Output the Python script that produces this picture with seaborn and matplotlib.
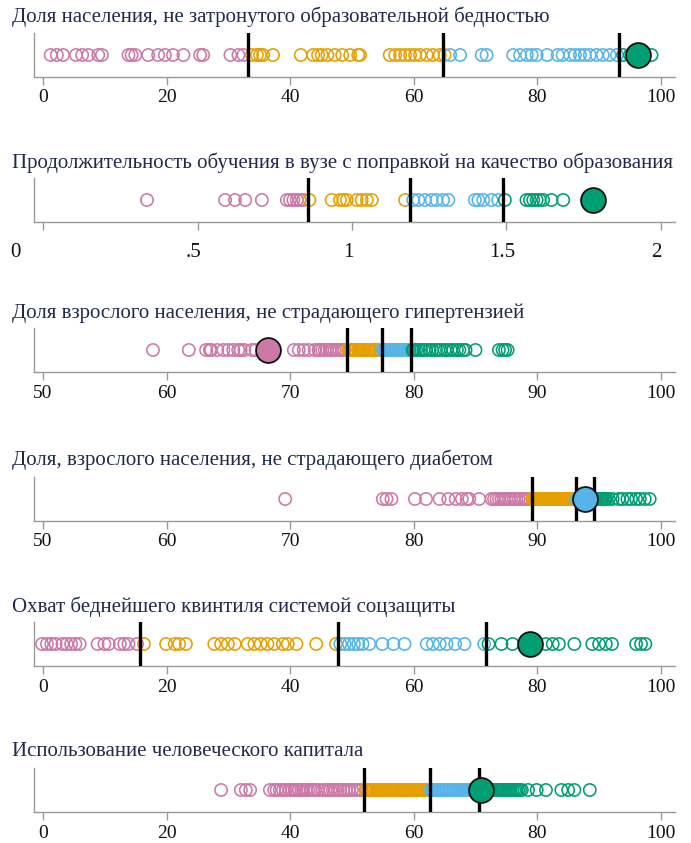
import numpy as np
import pandas as pd
import matplotlib
matplotlib.use("Agg")
import matplotlib.pyplot as plt
import matplotlib.transforms as mtransforms
import seaborn as sns

# ---------------- data ----------------
titles = [
    "Доля населения, не затронутого образовательной бедностью",
    "Продолжительность обучения в вузе с поправкой на качество образования",
    "Доля взрослого населения, не страдающего гипертензией",
    "Доля, взрослого населения, не страдающего диабетом",
    "Охват беднейшего квинтиля системой соцзащиты",
    "Использование человеческого капитала",
]

groups = ["Q1", "Q2", "Q3", "Q4"]
palette = {"Q1": "#CC79A7", "Q2": "#E69F00", "Q3": "#56B4E9", "Q4": "#009E73"}

# panel 1
p1_q1 = [1.2, 2.2, 3.2, 5.3, 6.3, 7.3, 8.9, 9.5, 13.8, 14.3, 14.9, 17.0, 18.6, 19.7, 21.0,
         22.7, 25.4, 25.9, 30.3, 31.6, 32.4]
p1_q2 = [33.8, 34.6, 35.1, 35.6, 37.2, 41.7, 43.7, 44.5, 45.1, 46.0, 47.2, 48.4, 49.7, 51.0,
         51.3, 56.1, 57.0, 57.8, 58.6, 59.4, 60.2, 61.0, 62.1, 63.1, 64.2, 65.0]
p1_q3 = [65.9, 67.5, 71.0, 71.8, 76.1, 77.2, 78.3, 79.1, 79.9, 81.6, 83.3, 84.1, 85.3, 86.1,
         86.9, 87.7, 88.5, 89.6, 90.6, 91.7, 92.9]
p1_q4 = [93.9, 95.0, 98.5]
p1_cut = [33.2, 64.8, 93.3]
p1_hl = (96.3, "Q4")

# panel 2
p2_q1 = [0.336, 0.589, 0.621, 0.654, 0.708, 0.789, 0.799, 0.810, 0.821, 0.831, 0.842]
p2_q2 = [0.862, 0.934, 0.961, 0.972, 0.983, 1.015, 1.031, 1.048, 1.064, 1.172]
p2_q3 = [1.198, 1.215, 1.236, 1.258, 1.274, 1.295, 1.312, 1.398, 1.409, 1.425, 1.452, 1.473]
p2_q4 = [1.495, 1.565, 1.576, 1.587, 1.598, 1.608, 1.619, 1.646, 1.684]
p2_cut = [0.859, 1.188, 1.49]
p2_hl = (1.781, "Q4")

# panel 3
p3_q1 = [58.9, 61.8, 63.2, 63.5, 63.6, 64.1, 64.6, 65.0, 65.4, 65.8, 66.0, 66.3, 66.9, 67.2,
         70.3, 70.7, 71.1, 71.5, 72.0, 72.3, 72.4, 72.6, 72.8, 73.0, 73.2, 73.4, 73.6, 73.8,
         74.0, 74.2, 74.4]
p3_q2 = [74.7, 74.8, 74.9, 75.0, 75.1, 75.2, 75.3, 75.5, 75.6, 75.7, 75.9, 76.0, 76.1, 76.3,
         76.4, 76.5, 76.7, 76.8, 76.9, 77.0, 77.2, 77.3]
p3_q3 = [77.5, 77.6, 77.7, 77.8, 77.9, 78.0, 78.1, 78.2, 78.3, 78.4, 78.5, 78.6, 78.7, 78.8,
         78.9, 79.0, 79.1, 79.2, 79.3, 79.4, 79.5, 79.6, 79.7]
p3_q4 = [79.9, 80.0, 80.2, 80.4, 80.6, 80.8, 81.0, 81.3, 81.5, 81.8, 82.0, 82.2, 82.5, 82.7,
         83.0, 83.2, 83.5, 83.7, 84.0, 84.2, 85.0, 86.9, 87.2, 87.4, 87.6]
p3_cut = [74.6, 77.45, 79.8]
p3_hl = (68.2, "Q1")

# panel 4
p4_q1 = [69.6, 77.5, 77.8, 78.2, 80.1, 81.0, 82.1, 82.8, 83.4, 83.9, 84.3, 84.5, 85.3, 86.3,
         86.5, 86.7, 86.9, 87.1, 87.3, 87.5, 87.7, 87.9, 88.1, 88.3, 88.5, 88.7, 88.9, 89.1,
         89.3]
p4_q2 = [89.6, 89.7, 89.8, 89.9, 90.0, 90.1, 90.2, 90.3, 90.4, 90.5, 90.6, 90.7, 90.8, 90.9,
         91.0, 91.1, 91.2, 91.4, 91.6, 91.7, 91.8, 91.9, 92.0, 92.1, 92.2, 92.3, 92.4, 92.5,
         92.6, 92.7, 92.8, 92.9]
p4_q3 = [93.2, 93.4, 93.6, 94.2, 94.4]
p4_q4 = [94.7, 94.8, 94.9, 95.0, 95.1, 95.2, 95.3, 95.4, 95.5, 95.6, 95.8, 96.1, 96.6, 96.9,
         97.3, 97.6, 98.0, 98.3, 98.7, 99.1]
p4_cut = [89.6, 93.1, 94.6]
p4_hl = (93.9, "Q3")

# panel 5
p5_q1 = [-0.2, 0.6, 1.3, 2.0, 3.1, 3.8, 4.5, 5.2, 5.9, 8.8, 9.9, 10.6, 12.4, 13.1, 13.8, 15.2]
p5_q2 = [16.3, 19.9, 21.3, 22.0, 23.1, 27.7, 28.8, 29.9, 31.0, 33.1, 34.2, 35.2, 36.3, 37.4,
         38.8, 39.6, 41.0, 44.2, 47.4]
p5_q3 = [48.1, 48.8, 49.5, 50.3, 51.0, 51.7, 52.8, 54.9, 56.7, 58.5, 62.1, 63.1, 64.2, 65.3,
         66.7, 68.2, 71.4]
p5_q4 = [72.1, 74.2, 76.0, 81.4, 82.5, 83.5, 86.0, 88.9, 90.0, 91.1, 92.1, 96.0, 96.8, 97.5]
p5_cut = [15.6, 47.8, 71.7]
p5_hl = (78.9, "Q4")

# panel 6
p6_q1 = [28.8, 32.0, 32.8, 33.5, 36.7, 37.4, 37.8, 38.3, 38.8, 39.3, 39.9, 40.3, 40.7, 41.0,
         41.4, 41.8, 42.1, 42.5, 42.9, 43.3, 43.7, 44.0, 44.5, 45.2, 45.7, 46.1, 46.5, 46.9,
         47.3, 47.7, 48.1, 48.6, 49.0, 49.5, 50.0, 50.5, 51.0, 51.5]
p6_q2 = [52.2, 52.5, 52.8, 53.1, 53.4, 53.7, 54.0, 54.3, 54.6, 54.9, 55.2, 55.5, 55.8, 56.1,
         56.4, 56.7, 57.0, 57.3, 57.6, 57.9, 58.2, 58.5, 58.8, 59.1, 59.4, 59.7, 60.0, 60.3,
         60.6, 60.9, 61.2, 61.5, 61.8, 62.1, 62.4]
p6_q3 = [62.8, 63.0, 63.3, 63.5, 63.8, 64.0, 64.3, 64.5, 64.8, 65.0, 65.3, 65.5, 65.8, 66.0,
         66.3, 66.5, 66.8, 67.0, 67.3, 67.5, 67.8, 68.0, 68.3, 68.5, 68.8, 69.0, 69.3, 69.5,
         69.8, 70.1]
p6_q4 = [71.2, 71.5, 71.8, 72.1, 72.4, 72.7, 73.0, 73.3, 73.6, 73.9, 74.2, 74.5, 74.8, 75.1,
         75.4, 75.7, 76.0, 76.3, 76.6, 76.9, 77.2, 77.5, 78.5, 79.9, 81.4, 83.9, 85.0, 86.0,
         88.5]
p6_cut = [51.9, 62.6, 70.5]
p6_hl = (70.9, "Q4")

ticks_0_100 = [0, 20, 40, 60, 80, 100]
labels_0_100 = ["0", "20", "40", "60", "80", "100"]
ticks_50_100 = [50, 60, 70, 80, 90, 100]
labels_50_100 = ["50", "60", "70", "80", "90", "100"]
ticks_0_2 = [0, 0.5, 1, 1.5, 2]
labels_0_2 = ["0", ".5", "1", "1.5", "2"]

panels = [
    dict(q=[p1_q1, p1_q2, p1_q3, p1_q4], cut=p1_cut, hl=p1_hl, xlim=(-1.5, 102.3),
         ticks=ticks_0_100, labels=labels_0_100),
    dict(q=[p2_q1, p2_q2, p2_q3, p2_q4], cut=p2_cut, hl=p2_hl, xlim=(-0.03, 2.046),
         ticks=ticks_0_2, labels=labels_0_2),
    dict(q=[p3_q1, p3_q2, p3_q3, p3_q4], cut=p3_cut, hl=p3_hl, xlim=(49.27, 101.15),
         ticks=ticks_50_100, labels=labels_50_100),
    dict(q=[p4_q1, p4_q2, p4_q3, p4_q4], cut=p4_cut, hl=p4_hl, xlim=(49.27, 101.15),
         ticks=ticks_50_100, labels=labels_50_100),
    dict(q=[p5_q1, p5_q2, p5_q3, p5_q4], cut=p5_cut, hl=p5_hl, xlim=(-1.5, 102.3),
         ticks=ticks_0_100, labels=labels_0_100),
    dict(q=[p6_q1, p6_q2, p6_q3, p6_q4], cut=p6_cut, hl=p6_hl, xlim=(-1.5, 102.3),
         ticks=ticks_0_100, labels=labels_0_100),
]

# ---------------- figure ----------------
sns.set_theme(style="white")
plt.rcParams["font.family"] = ["Liberation Serif", "DejaVu Serif"]

W, H = 691, 843
fig = plt.figure(figsize=(W / 100, H / 100), dpi=100)

axes_top_px = [33, 178, 328, 477, 622, 768]
title_y_px = [17, 163, 313, 460, 607, 752]
ax_h_px = 44
ax_left_px, ax_right_px = 34, 675

title_color = "#1f2b4d"
grey = "#9a9a9a"

for i, p in enumerate(panels):
    top = axes_top_px[i]
    ax = fig.add_axes([ax_left_px / W, 1 - (top + ax_h_px) / H,
                       (ax_right_px - ax_left_px) / W, ax_h_px / H])
    rows = []
    for g, vals in zip(groups, p["q"]):
        for v in vals:
            rows.append((v, g))
    df = pd.DataFrame(rows, columns=["value", "group"])
    df["y"] = 0.0
    sns.scatterplot(data=df, x="value", y="y", hue="group", palette=palette,
                    hue_order=groups, s=78, marker="o", linewidth=1.0,
                    legend=False, ax=ax, zorder=2)
    for coll in ax.collections:
        fc = coll.get_facecolors()
        coll.set_edgecolors(fc)
        coll.set_facecolors("none")
        coll.set_linewidth(1.15)

    for c in p["cut"]:
        ax.axvline(c, color="black", lw=2.4, zorder=3)

    hv, hg = p["hl"]
    hdf = pd.DataFrame({"value": [hv], "y": [0.0]})
    sns.scatterplot(data=hdf, x="value", y="y", color=palette[hg], s=320,
                    edgecolor="#111111", linewidth=1.3, ax=ax, zorder=4, legend=False)

    ax.set_xlim(*p["xlim"])
    ax.set_ylim(-1, 1)
    ax.set_yticks([])
    ax.set_xlabel("")
    ax.set_ylabel("")
    ax.set_facecolor("white")
    for s in ["top", "right"]:
        ax.spines[s].set_visible(False)
    for s in ["left", "bottom"]:
        ax.spines[s].set_color(grey)
        ax.spines[s].set_linewidth(1.0)
    ax.set_xticks(p["ticks"])
    ax.set_xticklabels(p["labels"])
    if i == 1:
        ax.tick_params(axis="x", direction="out", length=6, width=1, color=grey,
                       labelsize=15, pad=9, labelcolor="#111111", bottom=True)
        lbls = ax.get_xticklabels()
        off = mtransforms.ScaledTranslation(-28 / 100, 0, fig.dpi_scale_trans)
        lbls[0].set_transform(lbls[0].get_transform() + off)
        off2 = mtransforms.ScaledTranslation(-4 / 100, 0, fig.dpi_scale_trans)
        for lb in lbls[1:]:
            lb.set_transform(lb.get_transform() + off2)
    else:
        ax.tick_params(axis="x", direction="out", length=6, width=1, color=grey,
                       labelsize=14, pad=3, labelcolor="#111111", bottom=True)

    fig.text(12 / W, 1 - title_y_px[i] / H, titles[i], ha="left", va="center",
             fontsize=15, color=title_color)

fig.savefig("out.png", dpi=100, facecolor="white")
